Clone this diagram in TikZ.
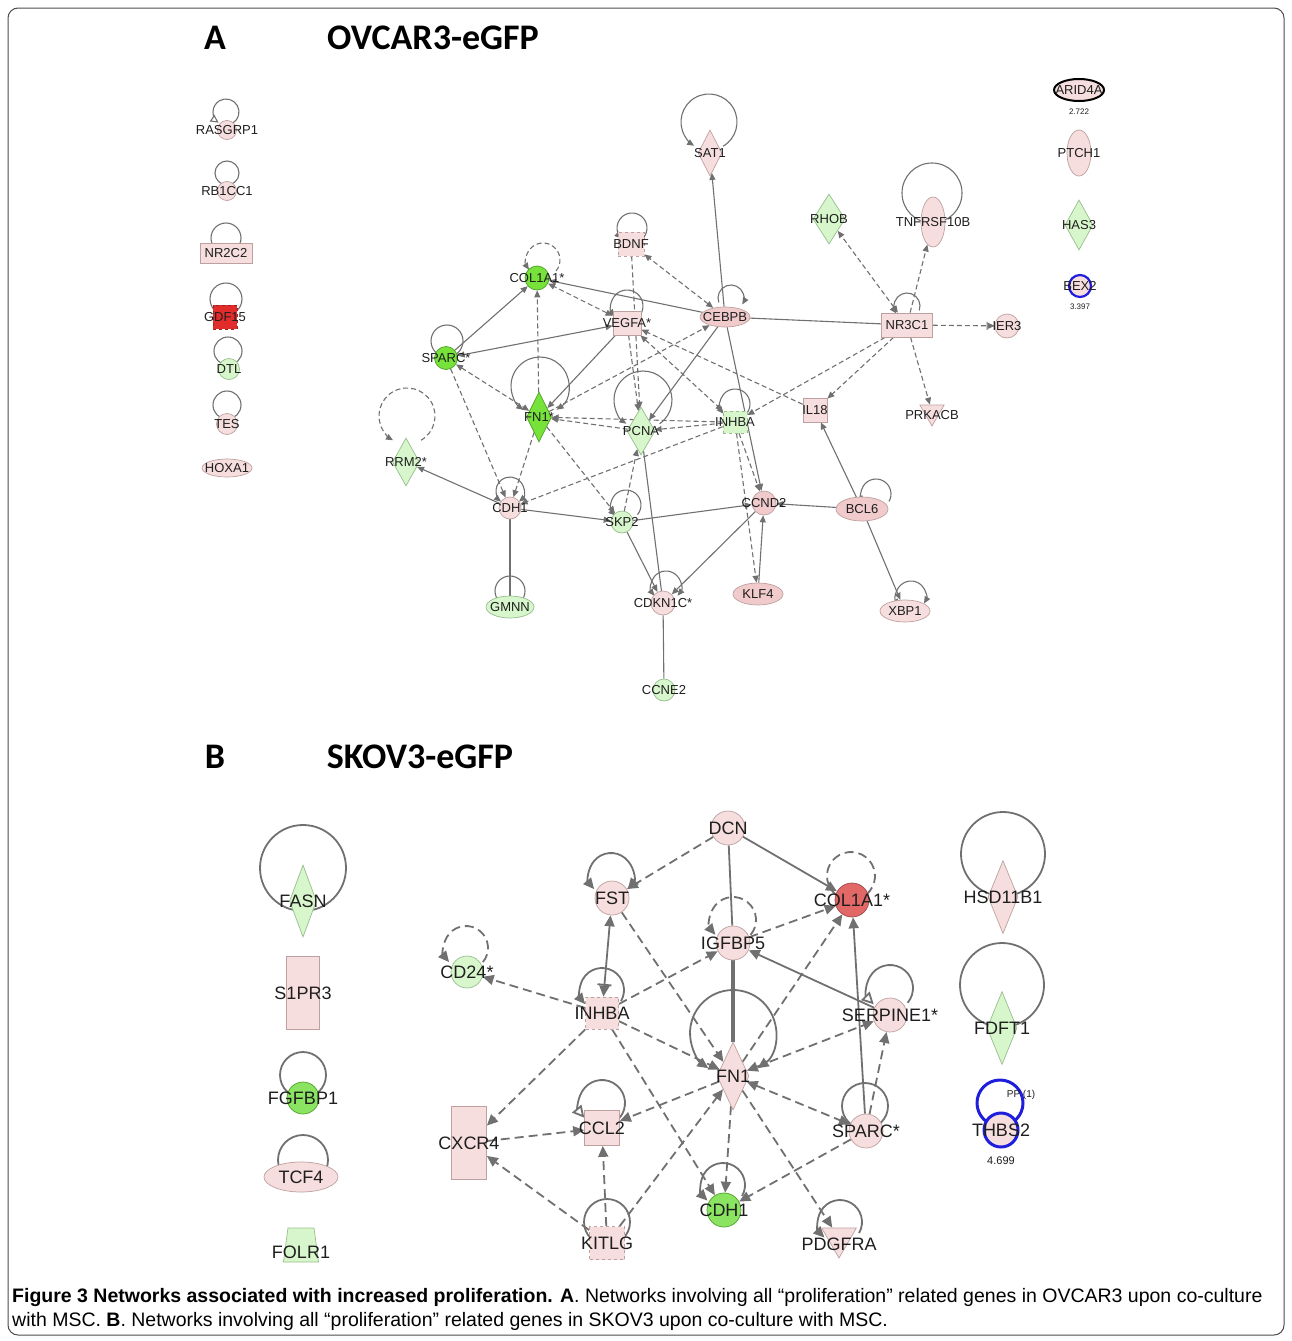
\documentclass[tikz,border=0pt]{standalone}
\usepackage{fontspec}
\setmainfont{Liberation Sans}
\newfontfamily\headfont{Carlito}
\usetikzlibrary{arrows.meta,shapes.geometric}

\definecolor{pnk}{RGB}{247,222,222}
\definecolor{pnkdk}{RGB}{241,203,203}
\definecolor{pnkD}{RGB}{190,160,160}
\definecolor{lgr}{RGB}{216,246,204}
\definecolor{lgrD}{RGB}{150,190,140}
\definecolor{bgr}{RGB}{118,226,58}
\definecolor{bgrD}{RGB}{80,160,40}
\definecolor{mgr}{RGB}{138,228,98}
\definecolor{red1}{RGB}{226,44,44}
\definecolor{redl}{RGB}{226,104,104}
\definecolor{blu}{RGB}{30,30,220}
\definecolor{edge}{RGB}{112,112,112}
\definecolor{txt}{RGB}{30,30,30}

\pgfdeclarelayer{bg}
\pgfsetlayers{bg,main}

% self loop: centre, radius, start and end angle
\newcommand{\sloop}[5][]{\draw[#1] ([shift={(#4:#3pt)}]#2) arc[start angle=#4,end angle=#5,radius=#3pt];}

\tikzset{
  gene/.style={inner sep=0pt, line width=0.7pt},
  pk/.style={fill=pnk, draw=pnkD},
  pk2/.style={fill=pnkdk, draw=pnkD},
  lg/.style={fill=lgr, draw=lgrD},
  bg/.style={fill=bgr, draw=bgrD},
  gr/.style={fill=mgr, draw=bgrD},
  rd/.style={fill=red1, draw=red1!70!black},
  rdl/.style={fill=redl, draw=redl!70!black},
  cir/.style={gene, circle, minimum size=#1},
  ell/.style={gene, ellipse},
  dia/.style={gene, diamond},
  rbox/.style={gene, rectangle},
  tri/.style={gene, regular polygon, regular polygon sides=3, shape border rotate=180},
  lnA/.style={draw=edge, line width=1.1pt},
  dshA/.style={lnA, dash pattern=on 5pt off 3pt},
  lnB/.style={draw=edge, line width=1.8pt},
  dshB/.style={lnB, dash pattern=on 9pt off 5pt},
  opentip/.style={-{Triangle[open,fill=white,length=#1,width=#1]}},
  head/.style={font=\headfont\bfseries\fontsize{36}{36}\selectfont, text=black},
  val/.style={font=\fontsize{8}{8}\selectfont, text=txt, inner sep=0pt},
  capt/.style={anchor=west, font=\fontsize{19.5}{22}\selectfont, inner sep=0pt},
  frame/.style={draw=black!70, line width=1pt, rounded corners=10pt}
}

\begin{document}
\begin{tikzpicture}[x=1pt,y=1pt]
\useasboundingbox (0,0) rectangle (1292,-1341);
\draw[frame] (8,-8) rectangle (1284,-1335);

% titles
\node[head] (ta) at (215,-38) {A};
\node[head] (tna) at (433,-38) {OVCAR3-eGFP};
\node[head] (tb) at (215,-757) {B};
\node[head] (tnb) at (420,-757) {SKOV3-eGFP};

%%%%% panel A
\begin{scope}[every label/.style={font=\fontsize{13}{13}\selectfont, text=txt, inner sep=0pt},
              >={Triangle[length=7pt,width=6pt]}]
  % single genes, left
  \node[cir=19pt,pk,label=center:RASGRP1] (rasgrp1) at (227,-130) {};
  \node[cir=19pt,pk,label=center:RB1CC1] (rb1cc1) at (227,-191) {};
  \node[rbox,pk,minimum width=52pt,minimum height=20pt,label=center:NR2C2] (nr2c2) at (226,-253) {};
  \node[rbox,rd,dashed,minimum size=24pt,label=center:GDF15] (gdf15) at (225,-317) {};
  \node[cir=21pt,lg,label=center:DTL] (dtl) at (229,-369) {};
  \node[cir=21pt,pk,label=center:TES] (tes) at (227,-424) {};
  \node[ell,pk,minimum width=50pt,minimum height=18pt,label=center:HOXA1] (hoxa1) at (227,-468) {};

  % single genes, right
  \node[ell,pk,draw=black,line width=2pt,minimum width=50pt,minimum height=22pt,label=center:ARID4A] (arid4a) at (1079,-90) {};
  \node[val] (val1) at (1079,-112) {2.722};
  \node[ell,pk,minimum width=24pt,minimum height=46pt,label=center:PTCH1] (ptch1) at (1079,-153) {};
  \node[dia,lg,minimum width=28pt,minimum height=50pt,label=center:HAS3] (has3) at (1079,-225) {};
  \node[cir=22pt,pk,draw=blu,line width=2.2pt,label=center:BEX2] (bex2) at (1080,-286) {};
  \node[val] (val2) at (1080,-307) {3.397};

  % network
  \node[dia,pk,minimum width=24pt,minimum height=46pt,label=center:SAT1] (sat1) at (710,-153) {};
  \node[dia,lg,minimum width=32pt,minimum height=50pt,label=center:RHOB] (rhob) at (829,-219) {};
  \node[ell,pk,minimum width=24pt,minimum height=50pt,label=center:TNFRSF10B] (tnf) at (933,-222) {};
  \node[rbox,pk,dashed,minimum width=26pt,minimum height=24pt,label=center:BDNF] (bdnf) at (631,-244) {};
  \node[cir=24pt,bg,label=center:COL1A1*] (col1A) at (537,-278) {};
  \node[rbox,pk,minimum width=28pt,minimum height=24pt,label=center:VEGFA*] (vegfa) at (627,-323) {};
  \node[ell,pk2,minimum width=50pt,minimum height=20pt,label=center:CEBPB] (cebpb) at (725,-317) {};
  \node[rbox,pk,minimum width=51pt,minimum height=24pt,label=center:NR3C1] (nr3c1) at (907,-325) {};
  \node[cir=24pt,pk,label=center:IER3] (ier3) at (1007,-326) {};
  \node[cir=23pt,bg,label=center:SPARC*] (sparcA) at (446,-358) {};
  \node[dia,bg,minimum width=25pt,minimum height=50pt,label=center:FN1*] (fn1A) at (539,-417) {};
  \node[dia,lg,minimum width=28pt,minimum height=48pt,label=center:PCNA] (pcna) at (641,-431) {};
  \node[rbox,lg,dashed,minimum width=24pt,minimum height=22pt,label=center:INHBA] (inhbaA) at (735,-422) {};
  \node[rbox,pk,minimum size=24pt,label=center:IL18] (il18) at (815,-410) {};
  \node[tri,pk,minimum size=28pt,label={[yshift=-3pt]center:PRKACB}] (prkacb) at (932,-412) {};
  \node[dia,lg,minimum width=27pt,minimum height=48pt,label=center:RRM2*] (rrm2) at (406,-462) {};
  \node[cir=22pt,pk,label=center:CDH1] (cdh1A) at (510,-508) {};
  \node[cir=22pt,lg,label=center:SKP2] (skp2) at (622,-522) {};
  \node[cir=24pt,pk2,label=center:CCND2] (ccnd2) at (764,-503) {};
  \node[ell,pk2,minimum width=52pt,minimum height=24pt,label=center:BCL6] (bcl6) at (862,-509) {};
  \node[ell,lg,minimum width=48pt,minimum height=22pt,label=center:GMNN] (gmnn) at (510,-607) {};
  \node[cir=24pt,pk,label=center:CDKN1C*] (cdkn1c) at (663,-603) {};
  \node[ell,pk2,minimum width=50pt,minimum height=22pt,label=center:KLF4] (klf4) at (758,-594) {};
  \node[ell,pk,minimum width=50pt,minimum height=22pt,label=center:XBP1] (xbp1) at (905,-611) {};
  \node[cir=22pt,lg,label=center:CCNE2] (ccne2) at (664,-690) {};

  \begin{pgfonlayer}{bg}
    % self loops
    \sloop[lnA,opentip=8pt]{226,-112}{13}{-60}{235}
    \draw[lnA] (227,-173) circle[radius=12pt];
    \draw[lnA] (226,-238) circle[radius=15pt];
    \draw[lnA] (226,-299) circle[radius=16pt];
    \draw[lnA] (228,-351) circle[radius=14pt];
    \draw[lnA] (227,-405) circle[radius=14pt];
    \sloop[lnA,->]{709,-122}{28}{-60}{238}
    \draw[lnA] (932,-193) circle[radius=30pt];
    \sloop[lnA,->]{632,-228}{15}{-50}{225}
    \sloop[dshA,->]{543,-260}{17}{-40}{215}
    \sloop[lnA,->]{627,-306}{16}{-40}{220}
    \sloop[lnA,->]{731,-298}{13}{200}{-30}
    \sloop[lnA,->]{907,-306}{13}{-20}{215}
    \draw[lnA] (447,-341) circle[radius=16pt];
    \sloop[lnA,<->]{540,-386}{29}{-55}{235}
    \sloop[lnA,->]{643,-400}{29}{-55}{235}
    \sloop[lnA,->]{735,-404}{15}{-40}{220}
    \sloop[dshA,->]{407,-416}{28}{-60}{240}
    \sloop[lnA,<->]{510,-491}{14}{-50}{230}
    \sloop[lnA,->]{626,-505}{15}{-40}{225}
    \sloop[lnA,->]{876,-494}{15}{-30}{215}
    \draw[lnA] (510,-591) circle[radius=15pt];
    \sloop[lnA,<->]{666,-586}{15}{-40}{220}
    \sloop[lnA,<->]{911,-596}{15}{220}{-30}

    % solid relations
    \draw[lnA,->] (sparcA) -- (col1A);
    \draw[lnA,<->] (sparcA) -- (vegfa);
    \draw[lnA,->] (cebpb) -- (col1A);
    \draw[lnA] (cebpb) -- (nr3c1);
    \draw[lnA,->] (cebpb) -- (sat1);
    \draw[lnA,->] (vegfa) -- (fn1A);
    \draw[lnA,->] (cebpb) -- (pcna);
    \draw[lnA,->] (cebpb) -- (ccnd2);
    \draw[lnA] (pcna) -- (cdkn1c);
    \draw[lnA,->] (cdh1A) -- (rrm2);
    \draw[lnA,->] (cdh1A) -- (skp2);
    \draw[lnA,->] (skp2) -- (ccnd2);
    \draw[lnA,->] (bcl6) -- (ccnd2);
    \draw[lnA,->] (skp2) -- (cdkn1c);
    \draw[lnA,->] (ccnd2) -- (cdkn1c);
    \draw[lnA,->] (klf4) -- (ccnd2);
    \draw[lnA] (cdh1A) -- (gmnn);
    \draw[lnA] (cdkn1c) -- (ccne2);
    \draw[lnA,->] (bcl6) -- (xbp1);
    \draw[lnA,->] (bcl6) -- (il18);

    % dashed relations
    \draw[dshA,->] (fn1A) -- (col1A);
    \draw[dshA,<->] (vegfa) -- (col1A);
    \draw[dshA,<->] (sparcA) -- (fn1A);
    \draw[dshA,->] (sparcA) -- (cdh1A);
    \draw[dshA,->] (fn1A) -- (cdh1A);
    \draw[dshA,<->] (cebpb) -- (bdnf);
    \draw[dshA,->] (bdnf) -- (pcna);
    \draw[dshA,->] (vegfa) -- (pcna);
    \draw[dshA,->] (fn1A) -- (cebpb);
    \draw[dshA,->] (pcna) -- (fn1A);
    \draw[dshA,->] (inhbaA.west) -- (fn1A);
    \draw[dshA,->] (inhbaA) -- (pcna);
    \draw[dshA,<->] (vegfa) -- (inhbaA);
    \draw[dshA,->] (il18) -- (vegfa);
    \draw[dshA,->] (nr3c1) -- (inhbaA);
    \draw[dshA,->] (nr3c1) -- (il18);
    \draw[dshA,->] (nr3c1) -- (prkacb);
    \draw[dshA,->] (nr3c1) -- (tnf);
    \draw[dshA,<->] (nr3c1) -- (rhob);
    \draw[dshA,-{Bar[width=8pt] Triangle[length=7pt,width=6pt]}] (nr3c1) -- (ier3);
    \draw[dshA,->] (fn1A) -- (skp2);
    \draw[dshA,->] (skp2) -- (pcna);
    \draw[dshA,->] (inhbaA) -- (cdh1A);
    \draw[dshA,->] (inhbaA) -- (ccnd2);
    \draw[dshA,->] (inhbaA) -- (klf4);
  \end{pgfonlayer}
\end{scope}

%%%%% panel B
\begin{scope}[every label/.style={font=\fontsize{18}{18}\selectfont, text=txt, inner sep=0pt},
              >={Triangle[length=11pt,width=10pt]}]
  % single genes, left and right
  \node[dia,lg,minimum width=27pt,minimum height=72pt,label=center:FASN] (fasn) at (303,-901) {};
  \node[rbox,pk,minimum width=33pt,minimum height=73pt,label=center:S1PR3] (s1pr3) at (303,-993) {};
  \node[cir=32pt,gr,label=center:FGFBP1] (fgfbp1) at (303,-1098) {};
  \node[ell,pk,minimum width=74pt,minimum height=30pt,label=center:TCF4] (tcf4) at (301,-1177) {};
  \node[gene,trapezium,lg,trapezium stretches=true,trapezium left angle=66,trapezium right angle=66,minimum width=35pt,minimum height=34pt,label={[yshift=-7pt]center:FOLR1}] (folr1) at (301,-1245) {\phantom{.}};
  \node[dia,pk,minimum width=30pt,minimum height=73pt,label=center:HSD11B1] (hsd) at (1003,-897) {};
  \node[dia,lg,minimum width=30pt,minimum height=73pt,label=center:FDFT1] (fdft) at (1002,-1028) {};
  \node[cir=34pt,pk,draw=blu,line width=3pt,label=center:THBS2] (thbs2) at (1001,-1130) {};
  \node[val,font=\fontsize{10}{10}\selectfont] (pp) at (1021,-1095) {PP (1)};
  \node[val,font=\fontsize{11}{11}\selectfont] (val3) at (1001,-1161) {4.699};

  % network
  \node[cir=34pt,pk,label=center:DCN] (dcn) at (728,-828) {};
  \node[cir=34pt,pk,label=center:FST] (fst) at (612,-898) {};
  \node[cir=34pt,rdl,label=center:COL1A1*] (col1B) at (852,-900) {};
  \node[cir=34pt,pk,label=center:IGFBP5] (igfbp5) at (733,-943) {};
  \node[cir=32pt,lg,label=center:CD24*] (cd24) at (467,-972) {};
  \node[rbox,pk,dashed,minimum width=33pt,minimum height=32pt,label=center:INHBA] (inhbaB) at (602,-1013) {};
  \node[cir=34pt,pk,label=center:SERPINE1*] (serpine) at (890,-1015) {};
  \node[dia,pk,minimum width=32pt,minimum height=68pt,label=center:FN1] (fnB) at (733,-1076) {};
  \node[rbox,pk,minimum width=35pt,minimum height=73pt,label=center:CXCR4] (cxcr4) at (469,-1143) {};
  \node[rbox,pk,minimum size=35pt,label=center:CCL2] (ccl2) at (602,-1128) {};
  \node[cir=34pt,pk,label=center:SPARC*] (sparcB) at (866,-1131) {};
  \node[cir=34pt,gr,label=center:CDH1] (cdh1B) at (724,-1210) {};
  \node[rbox,pk,dashed,minimum width=35pt,minimum height=33pt,label=center:KITLG] (kitlg) at (607,-1243) {};
  \node[tri,pk,minimum size=40pt,label={[yshift=-6pt]center:PDGFRA}] (pdgfra) at (839,-1238) {};

  \begin{pgfonlayer}{bg}
    % self loops
    \draw[lnB] (303,-868) circle[radius=43pt];
    \draw[lnB] (303,-1075) circle[radius=23pt];
    \draw[lnB] (303,-1160) circle[radius=25pt];
    \draw[lnB] (1003,-854) circle[radius=42pt];
    \draw[lnB] (1002,-985) circle[radius=42pt];
    \draw[draw=blu,line width=3pt] (1000,-1103) circle[radius=23pt];
    \sloop[lnB,<->]{611,-875}{22}{-40}{220}
    \sloop[dshB,->]{466,-948}{22}{-40}{220}
    \sloop[lnB,->]{602,-990}{22}{-30}{220}
    \sloop[dshB,->]{733,-920}{23}{-40}{220}
    \sloop[dshB]{851,-876}{24}{-50}{230}
    \sloop[lnB,opentip=12pt]{890,-988}{23}{-40}{225}
    \sloop[lnB,<->]{733,-1033}{43}{-55}{235}
    \sloop[lnB,opentip=12pt]{602,-1103}{23}{-40}{220}
    \draw[lnB] (865,-1106) circle[radius=23pt];
    \draw[lnB] (607,-1222) circle[radius=23pt];
    \sloop[lnB,->]{723,-1185}{22}{-30}{225}
    \sloop[lnB,->]{840,-1222}{22}{-30}{225}

    % solid relations
    \draw[lnB] (dcn) -- (igfbp5);
    \draw[lnB,line width=3.2pt] (igfbp5) -- (fnB);
    \draw[lnB,->] (dcn) -- (col1B);
    \draw[lnB,{Triangle[length=11pt,width=10pt] Bar[width=14pt]}-{Triangle[length=11pt,width=10pt]}] (inhbaB) -- (fst);
    \draw[lnB,->] (serpine) -- (igfbp5);
    \draw[lnB,->] (sparcB) -- (col1B);

    % dashed relations
    \draw[dshB,->] (dcn) -- (fst);
    \draw[dshB,->] (fst) -- (fnB);
    \draw[dshB,->] (inhbaB) -- (cd24);
    \draw[dshB,->] (inhbaB) -- (igfbp5);
    \draw[dshB,->] (inhbaB) -- (fnB);
    \draw[dshB,->] (inhbaB) -- (cxcr4);
    \draw[dshB,->] (inhbaB) -- (cdh1B);
    \draw[dshB,->] (igfbp5) -- (col1B);
    \draw[dshB,->] (fnB) -- (col1B);
    \draw[dshB,<->] (fnB) -- (serpine);
    \draw[dshB,->] (sparcB) -- (serpine);
    \draw[dshB,<->] (fnB) -- (sparcB);
    \draw[dshB,->] (sparcB) -- (cdh1B);
    \draw[dshB,->] (fnB) -- (cdh1B);
    \draw[dshB,->] (fnB) -- (pdgfra);
    \draw[dshB,->] (fnB) -- (ccl2);
    \draw[dshB,->] (kitlg) -- (fnB);
    \draw[dshB,->] (kitlg) -- (ccl2);
    \draw[dshB,->] (kitlg) -- (cxcr4);
    \draw[dshB,->] (cxcr4) -- (ccl2);
  \end{pgfonlayer}
\end{scope}

% caption
\node[capt] (cap1) at (12,-1297)
  {\textbf{Figure 3 Networks associated with increased proliferation. A}. Networks involving all “proliferation” related genes in OVCAR3 upon co-culture};
\node[capt] (cap2) at (12,-1321)
  {with MSC. \textbf{B}. Networks involving all “proliferation” related genes in SKOV3 upon co-culture with MSC.};
\end{tikzpicture}
\end{document}
